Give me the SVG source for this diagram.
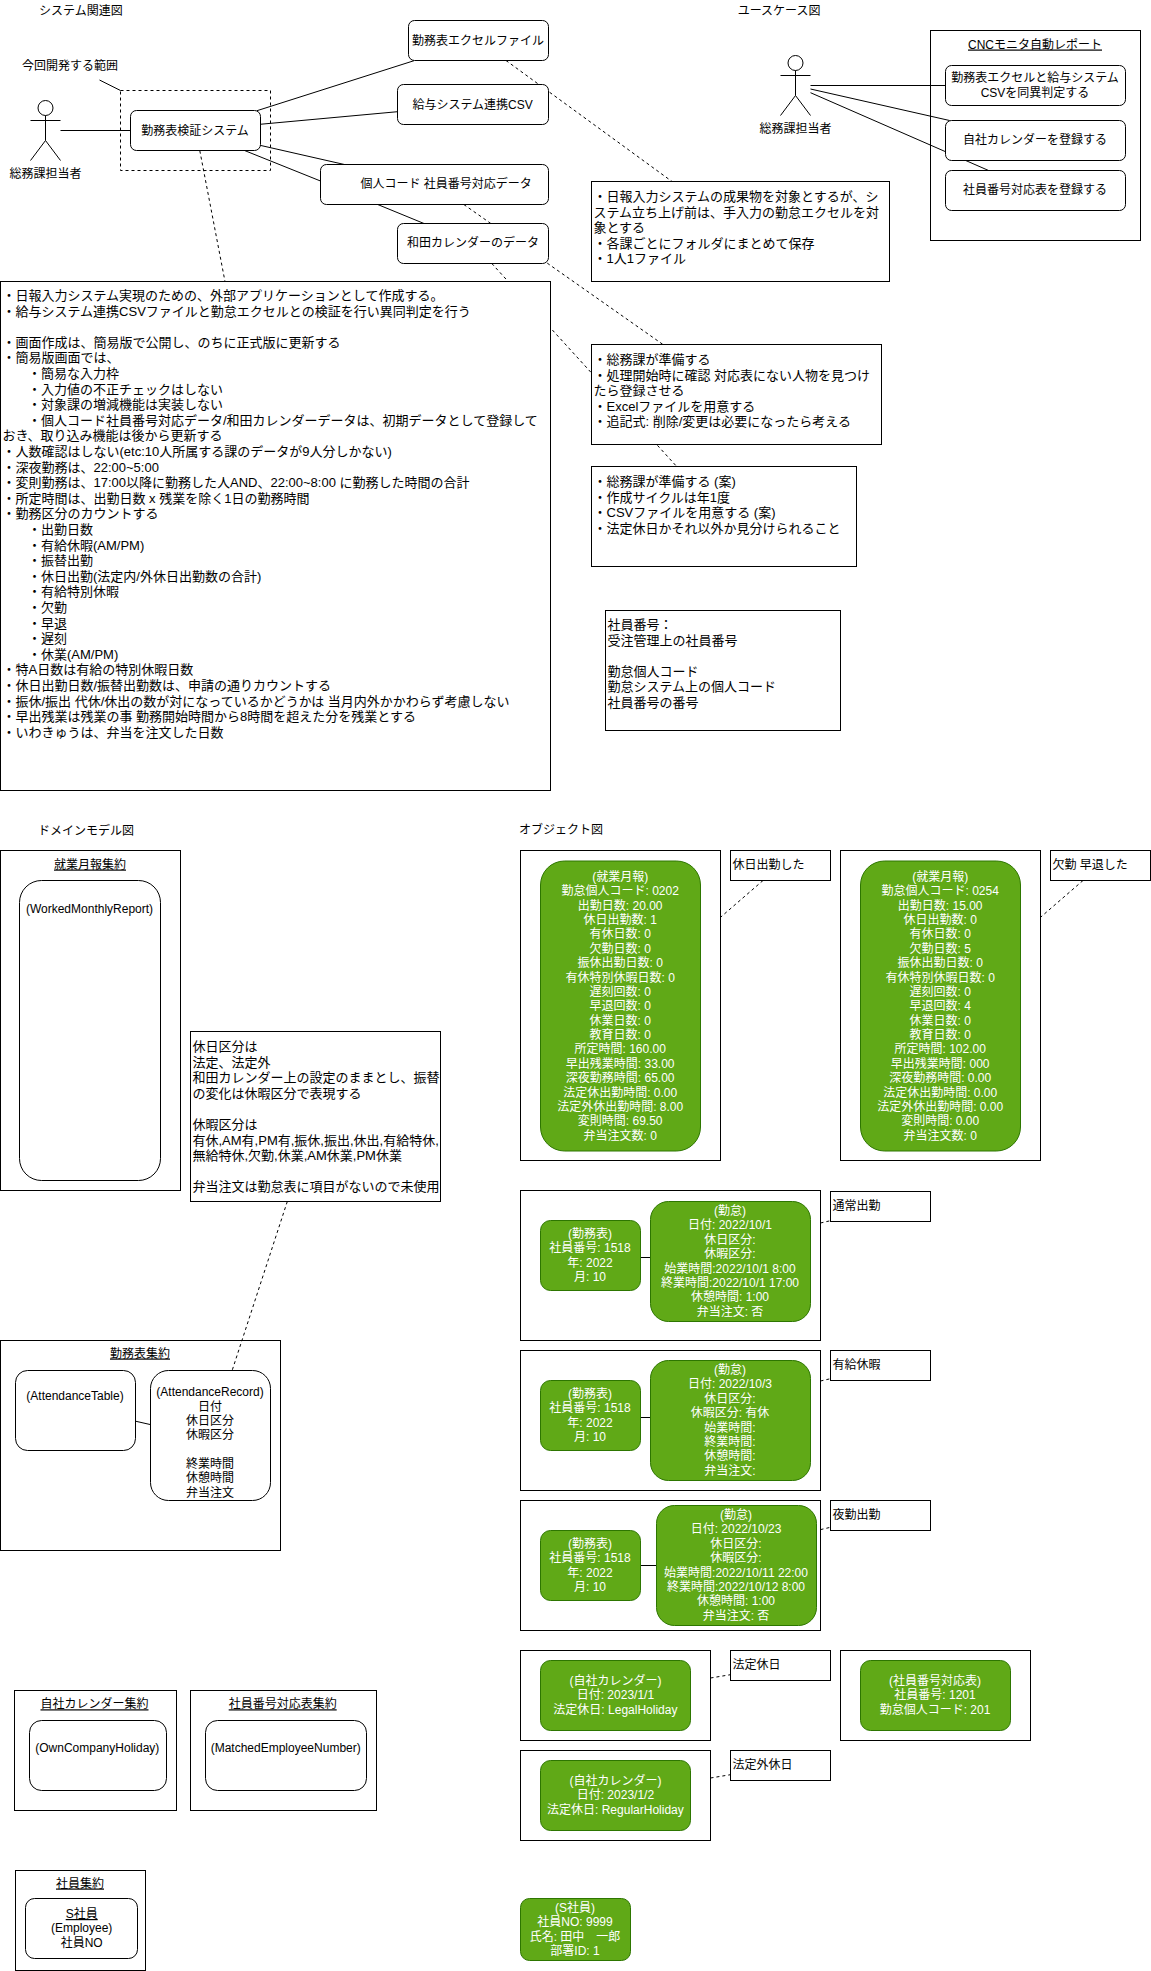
<svg xmlns="http://www.w3.org/2000/svg" width="1151" height="1971" viewBox="0 0 1151 1971">
<style>
text{font-family:"Liberation Sans","Noto Sans CJK JP",sans-serif;font-size:12px;fill:#000}
.m{text-anchor:middle}
.u{text-decoration:underline}
.n13{font-size:13px}
.w{fill:#fff;text-anchor:middle}
.b{fill:#fff;stroke:#000;stroke-width:1}
.f{fill:none;stroke:#000;stroke-width:1}
.g{fill:#60a917;stroke:#2d7600;stroke-width:1}
.l{fill:none;stroke:#000;stroke-width:1}
.d{fill:none;stroke:#000;stroke-width:1;stroke-dasharray:3 3}
</style>
<g id="connectors">
<path class="l" d="M99.5 80L120.5 90.5"/>
<path class="l" d="M60.5 130.5H130.5"/>
<path class="l" d="M257 110.7L414 60.7"/>
<path class="l" d="M260 124.3L397.6 111.7"/>
<path class="l" d="M260 145.3L344.4 164.5"/>
<path class="l" d="M245 150.7L320.5 181"/>
<path class="l" d="M377.7 204.5L424 223.5"/>
<path class="d" d="M506 60.5L672 181.5"/>
<path class="d" d="M199.8 150.7L225 281.5"/>
<path class="d" d="M463.8 204.5L663 344.5"/>
<path class="d" d="M491.8 263.5L676.7 466.5"/>
<path class="l" d="M810.5 85.5H945.5"/>
<path class="l" d="M810.5 89L949.6 120.5"/>
<path class="l" d="M810.5 92.7L988.6 170.5"/>
<path class="d" d="M287.3 1201.5L232.3 1370"/>
<path class="l" d="M135.5 1421.2L150.5 1424.6"/>
<path class="d" d="M763 880.5L720.5 917.3"/>
<path class="d" d="M1083 880.5L1040.5 917.3"/>
<path class="l" d="M640.5 1257.5H650.5"/>
<path class="l" d="M640.5 1417.5H650.5"/>
<path class="l" d="M640.5 1565.5H656.5"/>
<path class="d" d="M820.5 1223L830.5 1220.7"/>
<path class="d" d="M820.5 1381L830.5 1378.7"/>
<path class="d" d="M820.5 1529.6L830.5 1527.3"/>
<path class="d" d="M710.5 1678L730.5 1674.7"/>
<path class="d" d="M710.5 1778L730.5 1774.7"/>
</g>
<g id="titles">
<text x="39" y="15">システム関連図</text>
<text x="737.7" y="15">ユースケース図</text>
<text x="38" y="834.5">ドメインモデル図</text>
<text x="519" y="834">オブジェクト図</text>
<text x="22" y="69.5">今回開発する範囲</text>
</g>
<g id="scope"><rect class="d" x="120.5" y="90.5" width="150" height="80"/></g>
<g id="actor1">
<ellipse class="f" cx="45.5" cy="108" rx="7.5" ry="7.5"/>
<path class="f" d="M45.5 115.5V140.5M30.5 120.5H60.5M30.5 160.5L45.5 140.5L60.5 160.5"/>
<text class="m" x="45.5" y="177.5">総務課担当者</text>
</g>
<g id="sys"><rect class="b" x="130.5" y="110.5" width="130" height="40" rx="6"/><text class="m" x="195" y="135.2">勤務表検証システム</text></g>
<g id="excel"><rect class="b" x="408.5" y="20.5" width="140" height="40" rx="6"/><text class="m" x="478" y="44.5">勤務表エクセルファイル</text></g>
<g id="csv"><rect class="b" x="397.5" y="84.5" width="151" height="40" rx="6"/><text class="m" x="472.6" y="108.5">給与システム連携CSV</text></g>
<g id="code"><rect class="b" x="320.5" y="164.5" width="228" height="40" rx="6"/><text class="m" x="446.2" y="187.8">個人コード 社員番号対応データ</text></g>
<g id="cal"><rect class="b" x="397.5" y="223.5" width="151" height="40" rx="6"/><text class="m" x="473" y="247.2">和田カレンダーのデータ</text></g>
<g id="note-main">
<rect class="b" x="0.5" y="281.5" width="550" height="509"/>
<g class="n13">
<text class="n13" x="2.5" y="300">・日報入力システム実現のための、外部アプリケーションとして作成する。</text>
<text class="n13" x="2.5" y="315.6">・給与システム連携CSVファイルと勤怠エクセルとの検証を行い異同判定を行う</text>
<text class="n13" x="2.5" y="346.8">・画面作成は、簡易版で公開し、のちに正式版に更新する</text>
<text class="n13" x="2.5" y="362.4">・簡易版画面では、</text>
<text class="n13" x="28" y="378">・簡易な入力枠</text>
<text class="n13" x="28" y="393.6">・入力値の不正チェックはしない</text>
<text class="n13" x="28" y="409.2">・対象課の増減機能は実装しない</text>
<text class="n13" x="28" y="424.8">・個人コード社員番号対応データ/和田カレンダーデータは、初期データとして登録して</text>
<text class="n13" x="2.5" y="440.4">おき、取り込み機能は後から更新する</text>
<text class="n13" x="2.5" y="456">・人数確認はしない(etc:10人所属する課のデータが9人分しかない)</text>
<text class="n13" x="2.5" y="471.6">・深夜勤務は、22:00~5:00</text>
<text class="n13" x="2.5" y="487.2">・変則勤務は、17:00以降に勤務した人AND、22:00~8:00 に勤務した時間の合計</text>
<text class="n13" x="2.5" y="502.8">・所定時間は、出勤日数 x 残業を除く1日の勤務時間</text>
<text class="n13" x="2.5" y="518.4">・勤務区分のカウントする</text>
<text class="n13" x="28" y="534">・出勤日数</text>
<text class="n13" x="28" y="549.6">・有給休暇(AM/PM)</text>
<text class="n13" x="28" y="565.2">・振替出勤</text>
<text class="n13" x="28" y="580.8">・休日出勤(法定内/外休日出勤数の合計)</text>
<text class="n13" x="28" y="596.4">・有給特別休暇</text>
<text class="n13" x="28" y="612">・欠勤</text>
<text class="n13" x="28" y="627.6">・早退</text>
<text class="n13" x="28" y="643.2">・遅刻</text>
<text class="n13" x="28" y="658.8">・休業(AM/PM)</text>
<text class="n13" x="2.5" y="674.4">・特A日数は有給の特別休暇日数</text>
<text class="n13" x="2.5" y="690">・休日出勤日数/振替出勤数は、申請の通りカウントする</text>
<text class="n13" x="2.5" y="705.6">・振休/振出 代休/休出の数が対になっているかどうかは 当月内外かかわらず考慮しない</text>
<text class="n13" x="2.5" y="721.2">・早出残業は残業の事 勤務開始時間から8時間を超えた分を残業とする</text>
<text class="n13" x="2.5" y="736.8">・いわきゅうは、弁当を注文した日数</text>
</g>
</g>
<g id="note-excel">
<rect class="b" x="591.5" y="181.5" width="298" height="100"/>
<text class="n13" x="593.5" y="200.8">・日報入力システムの成果物を対象とするが、シ</text>
<text class="n13" x="593.5" y="216.5">ステム立ち上げ前は、手入力の勤怠エクセルを対</text>
<text class="n13" x="593.5" y="232">象とする</text>
<text class="n13" x="593.5" y="247.5">・各課ごとにフォルダにまとめて保存</text>
<text class="n13" x="593.5" y="262.8">・1人1ファイル</text>
</g>
<g id="note-code">
<rect class="b" x="591.5" y="344.5" width="290" height="100"/>
<text class="n13" x="593.5" y="364">・総務課が準備する</text>
<text class="n13" x="593.5" y="379.6">・処理開始時に確認 対応表にない人物を見つけ</text>
<text class="n13" x="593.5" y="395.2">たら登録させる</text>
<text class="n13" x="593.5" y="410.8">・Excelファイルを用意する</text>
<text class="n13" x="593.5" y="426.4">・追記式: 削除/変更は必要になったら考える</text>
</g>
<g id="note-cal">
<rect class="b" x="591.5" y="466.5" width="265" height="100"/>
<text class="n13" x="593.5" y="486">・総務課が準備する (案)</text>
<text class="n13" x="593.5" y="501.6">・作成サイクルは年1度</text>
<text class="n13" x="593.5" y="517.2">・CSVファイルを用意する (案)</text>
<text class="n13" x="593.5" y="532.8">・法定休日かそれ以外か見分けられること</text>
</g>
<g id="note-def">
<rect class="b" x="605.5" y="610.5" width="235" height="120"/>
<text class="n13" x="607.5" y="629">社員番号：</text>
<text class="n13" x="607.5" y="644.6">受注管理上の社員番号</text>
<text class="n13" x="607.5" y="675.8">勤怠個人コード</text>
<text class="n13" x="607.5" y="691.4">勤怠システム上の個人コード</text>
<text class="n13" x="607.5" y="707">社員番号の番号</text>
</g>
<g id="actor2">
<ellipse class="f" cx="795.5" cy="63" rx="7.5" ry="7.5"/>
<path class="f" d="M795.5 70.5V95.5M780.5 75.5H810.5M780.5 115.5L795.5 95.5L810.5 115.5"/>
<text class="m" x="795.5" y="132.5">総務課担当者</text>
</g>
<g id="cnc">
<rect class="f" x="930.5" y="30.5" width="210" height="210"/>
<text class="m u" x="1035" y="48.5">CNCモニタ自動レポート</text>
</g>
<g id="uc1"><rect class="b" x="945.5" y="65.5" width="180" height="40" rx="6"/><text class="m" x="1035" y="82.2">勤務表エクセルと給与システム</text><text class="m" x="1035" y="97.2">CSVを同異判定する</text></g>
<g id="uc2"><rect class="b" x="945.5" y="120.5" width="180" height="40" rx="6"/><text class="m" x="1035" y="144">自社カレンダーを登録する</text></g>
<g id="uc3"><rect class="b" x="945.5" y="170.5" width="180" height="40" rx="6"/><text class="m" x="1035" y="194">社員番号対応表を登録する</text></g>

<g id="agg-report">
<rect class="f" x="0.5" y="850.5" width="180" height="340"/>
<text class="m u" x="90" y="868.5">就業月報集約</text>
<rect class="b" x="19.5" y="880.5" width="141" height="300" rx="22"/>
<text class="m" x="89.5" y="912.5">(WorkedMonthlyReport)</text>
</g>
<g id="note-domain">
<rect class="b" x="190.5" y="1031.5" width="250" height="170"/>
<text class="n13" x="192.5" y="1051">休日区分は</text>
<text class="n13" x="192.5" y="1066.6">法定、法定外</text>
<text class="n13" x="192.5" y="1082.2">和田カレンダー上の設定のままとし、振替</text>
<text class="n13" x="192.5" y="1097.8">の変化は休暇区分で表現する</text>
<text class="n13" x="192.5" y="1129">休暇区分は</text>
<text class="n13" x="192.5" y="1144.6">有休,AM有,PM有,振休,振出,休出,有給特休,</text>
<text class="n13" x="192.5" y="1160.2">無給特休,欠勤,休業,AM休業,PM休業</text>
<text class="n13" x="192.5" y="1191.4">弁当注文は勤怠表に項目がないので未使用</text>
</g>
<g id="agg-attendance">
<rect class="f" x="0.5" y="1340.5" width="280" height="210"/>
<text class="m u" x="140" y="1357.5">勤務表集約</text>
</g>
<g id="attendance-table"><rect class="b" x="15.5" y="1370.5" width="120" height="80" rx="12"/><text class="m" x="75" y="1400">(AttendanceTable)</text></g>
<g id="attendance-record">
<rect class="b" x="150.5" y="1370.5" width="120" height="130" rx="18"/>
<text class="m" x="210" y="1396">(AttendanceRecord)</text>
<text class="m" x="210" y="1410.8">日付</text>
<text class="m" x="210" y="1425">休日区分</text>
<text class="m" x="210" y="1439">休暇区分</text>
<text class="m" x="210" y="1468">終業時間</text>
<text class="m" x="210" y="1482.3">休憩時間</text>
<text class="m" x="210" y="1497">弁当注文</text>
</g>
<g id="agg-holiday">
<rect class="f" x="14.5" y="1690.5" width="162" height="120"/>
<text class="m u" x="94.5" y="1708.3">自社カレンダー集約</text>
<rect class="b" x="29.5" y="1720.5" width="137" height="70" rx="12"/>
<text class="m" x="97.3" y="1752.3">(OwnCompanyHoliday)</text>
</g>
<g id="agg-matched">
<rect class="f" x="190.5" y="1690.5" width="186" height="120"/>
<text class="m u" x="282.7" y="1708.3">社員番号対応表集約</text>
<rect class="b" x="205.5" y="1720.5" width="161" height="70" rx="12"/>
<text class="m" x="285.7" y="1752.3">(MatchedEmployeeNumber)</text>
</g>
<g id="agg-employee">
<rect class="f" x="15.5" y="1870.5" width="130" height="100"/>
<text class="m u" x="80" y="1887.5">社員集約</text>
<rect class="b" x="25.5" y="1898.5" width="112" height="60" rx="9"/>
<text class="m u" x="81.7" y="1918">S社員</text>
<text class="m" x="81.7" y="1932">(Employee)</text>
<text class="m" x="81.7" y="1947">社員NO</text>
</g>

<g id="obj1">
<rect class="f" x="520.5" y="850.5" width="200" height="310"/>
<rect class="g" x="540.5" y="861" width="160" height="290" rx="24"/>
<text class="w" x="620.2" y="881.2">(就業月報)</text>
<text class="w" x="620.2" y="895.2">勤怠個人コード: 0202</text>
<text class="w" x="620.2" y="910.2">出勤日数: 20.00</text>
<text class="w" x="620.2" y="924.2">休日出勤数: 1</text>
<text class="w" x="620.2" y="938.2">有休日数: 0</text>
<text class="w" x="620.2" y="953.2">欠勤日数: 0</text>
<text class="w" x="620.2" y="967.2">振休出勤日数: 0</text>
<text class="w" x="620.2" y="982.2">有休特別休暇日数: 0</text>
<text class="w" x="620.2" y="996.2">遅刻回数: 0</text>
<text class="w" x="620.2" y="1010.2">早退回数: 0</text>
<text class="w" x="620.2" y="1025.2">休業日数: 0</text>
<text class="w" x="620.2" y="1039.2">教育日数: 0</text>
<text class="w" x="620.2" y="1053.2">所定時間: 160.00</text>
<text class="w" x="620.2" y="1068.2">早出残業時間: 33.00</text>
<text class="w" x="620.2" y="1082.2">深夜勤務時間: 65.00</text>
<text class="w" x="620.2" y="1097.2">法定休出勤時間: 0.00</text>
<text class="w" x="620.2" y="1111.2">法定外休出勤時間: 8.00</text>
<text class="w" x="620.2" y="1125.2">変則時間: 69.50</text>
<text class="w" x="620.2" y="1140.2">弁当注文数: 0</text>
</g>
<g id="obj1-note"><rect class="b" x="730.5" y="850.5" width="100" height="30"/><text x="732.5" y="868.8">休日出勤した</text></g>
<g id="obj2">
<rect class="f" x="840.5" y="850.5" width="200" height="310"/>
<rect class="g" x="860.5" y="861" width="160" height="290" rx="24"/>
<text class="w" x="940.2" y="881.2">(就業月報)</text>
<text class="w" x="940.2" y="895.2">勤怠個人コード: 0254</text>
<text class="w" x="940.2" y="910.2">出勤日数: 15.00</text>
<text class="w" x="940.2" y="924.2">休日出勤数: 0</text>
<text class="w" x="940.2" y="938.2">有休日数: 0</text>
<text class="w" x="940.2" y="953.2">欠勤日数: 5</text>
<text class="w" x="940.2" y="967.2">振休出勤日数: 0</text>
<text class="w" x="940.2" y="982.2">有休特別休暇日数: 0</text>
<text class="w" x="940.2" y="996.2">遅刻回数: 0</text>
<text class="w" x="940.2" y="1010.2">早退回数: 4</text>
<text class="w" x="940.2" y="1025.2">休業日数: 0</text>
<text class="w" x="940.2" y="1039.2">教育日数: 0</text>
<text class="w" x="940.2" y="1053.2">所定時間: 102.00</text>
<text class="w" x="940.2" y="1068.2">早出残業時間: 000</text>
<text class="w" x="940.2" y="1082.2">深夜勤務時間: 0.00</text>
<text class="w" x="940.2" y="1097.2">法定休出勤時間: 0.00</text>
<text class="w" x="940.2" y="1111.2">法定外休出勤時間: 0.00</text>
<text class="w" x="940.2" y="1125.2">変則時間: 0.00</text>
<text class="w" x="940.2" y="1140.2">弁当注文数: 0</text>
</g>
<g id="obj2-note"><rect class="b" x="1050.5" y="850.5" width="100" height="30"/><text x="1052.5" y="868.8">欠勤 早退した</text></g>

<g id="frame-a"><rect class="f" x="520.5" y="1190.5" width="300" height="150"/></g>
<g id="sheet-a">
<rect class="g" x="540.5" y="1220.5" width="100" height="70" rx="10"/>
<text class="w" x="590" y="1237.8">(勤務表)</text>
<text class="w" x="590" y="1252.2">社員番号: 1518</text>
<text class="w" x="590" y="1266.8">年: 2022</text>
<text class="w" x="590" y="1281.2">月: 10</text>
</g>
<g id="rec-a">
<rect class="g" x="650.5" y="1201.5" width="160" height="120" rx="18"/>
<text class="w" x="730" y="1215.2">(勤怠)</text>
<text class="w" x="730" y="1229.2">日付: 2022/10/1</text>
<text class="w" x="730" y="1243.8">休日区分:</text>
<text class="w" x="730" y="1257.8">休暇区分:</text>
<text class="w" x="730" y="1272.8">始業時間:2022/10/1 8:00</text>
<text class="w" x="730" y="1286.8">終業時間:2022/10/1 17:00</text>
<text class="w" x="730" y="1301.2">休憩時間: 1:00</text>
<text class="w" x="730" y="1315.8">弁当注文: 否</text>
</g>
<g id="note-a"><rect class="b" x="830.5" y="1191.5" width="100" height="30"/><text x="832.5" y="1210.2">通常出勤</text></g>

<g id="frame-b"><rect class="f" x="520.5" y="1350.5" width="300" height="140"/></g>
<g id="sheet-b">
<rect class="g" x="540.5" y="1380.5" width="100" height="70" rx="10"/>
<text class="w" x="590" y="1397.8">(勤務表)</text>
<text class="w" x="590" y="1412.2">社員番号: 1518</text>
<text class="w" x="590" y="1426.8">年: 2022</text>
<text class="w" x="590" y="1441.2">月: 10</text>
</g>
<g id="rec-b">
<rect class="g" x="650.5" y="1360.5" width="160" height="120" rx="18"/>
<text class="w" x="730" y="1374.2">(勤怠)</text>
<text class="w" x="730" y="1388.2">日付: 2022/10/3</text>
<text class="w" x="730" y="1402.8">休日区分:</text>
<text class="w" x="730" y="1417.2">休暇区分: 有休</text>
<text class="w" x="730" y="1431.8">始業時間:</text>
<text class="w" x="730" y="1446.2">終業時間:</text>
<text class="w" x="730" y="1460.2">休憩時間:</text>
<text class="w" x="730" y="1475.2">弁当注文:</text>
</g>
<g id="note-b"><rect class="b" x="830.5" y="1350.5" width="100" height="30"/><text x="832.5" y="1368.8">有給休暇</text></g>

<g id="frame-c"><rect class="f" x="520.5" y="1500.5" width="300" height="130"/></g>
<g id="sheet-c">
<rect class="g" x="540.5" y="1530.5" width="100" height="70" rx="10"/>
<text class="w" x="590" y="1547.8">(勤務表)</text>
<text class="w" x="590" y="1562.2">社員番号: 1518</text>
<text class="w" x="590" y="1576.8">年: 2022</text>
<text class="w" x="590" y="1591.2">月: 10</text>
</g>
<g id="rec-c">
<rect class="g" x="656.5" y="1505.5" width="160" height="120" rx="18"/>
<text class="w" x="736" y="1519.2">(勤怠)</text>
<text class="w" x="736" y="1533.2">日付: 2022/10/23</text>
<text class="w" x="736" y="1547.8">休日区分:</text>
<text class="w" x="736" y="1561.8">休暇区分:</text>
<text class="w" x="736" y="1576.8">始業時間:2022/10/11 22:00</text>
<text class="w" x="736" y="1591.2">終業時間:2022/10/12 8:00</text>
<text class="w" x="736" y="1605.2">休憩時間: 1:00</text>
<text class="w" x="736" y="1619.8">弁当注文: 否</text>
</g>
<g id="note-c"><rect class="b" x="830.5" y="1500.5" width="100" height="30"/><text x="832.5" y="1519.2">夜勤出勤</text></g>

<g id="hol1">
<rect class="f" x="520.5" y="1650.5" width="190" height="90"/>
<rect class="g" x="540.5" y="1660.5" width="150" height="70" rx="10"/>
<text class="w" x="615.4" y="1685.2">(自社カレンダー)</text>
<text class="w" x="615.4" y="1699.2">日付: 2023/1/1</text>
<text class="w" x="615.4" y="1713.8">法定休日: LegalHoliday</text>
</g>
<g id="hol1-note"><rect class="b" x="730.5" y="1650.5" width="100" height="30"/><text x="732.5" y="1668.8">法定休日</text></g>
<g id="match">
<rect class="f" x="840.5" y="1650.5" width="190" height="90"/>
<rect class="g" x="860.5" y="1660.5" width="150" height="70" rx="10"/>
<text class="w" x="935" y="1685.2">(社員番号対応表)</text>
<text class="w" x="935" y="1699.2">社員番号: 1201</text>
<text class="w" x="935" y="1713.8">勤怠個人コード: 201</text>
</g>
<g id="hol2">
<rect class="f" x="520.5" y="1750.5" width="190" height="90"/>
<rect class="g" x="540.5" y="1760.5" width="150" height="70" rx="10"/>
<text class="w" x="615.4" y="1785.2">(自社カレンダー)</text>
<text class="w" x="615.4" y="1799.2">日付: 2023/1/2</text>
<text class="w" x="615.4" y="1813.8">法定休日: RegularHoliday</text>
</g>
<g id="hol2-note"><rect class="b" x="730.5" y="1750.5" width="100" height="30"/><text x="732.5" y="1768.8">法定外休日</text></g>
<g id="employee">
<rect class="g" x="520.5" y="1898.5" width="110" height="62" rx="9"/>
<text class="w" x="575" y="1912.2">(S社員)</text>
<text class="w" x="575" y="1926.2">社員NO: 9999</text>
<text class="w" x="575" y="1941.2">氏名: 田中　一郎</text>
<text class="w" x="575" y="1955.2">部署ID: 1</text>
</g>
</svg>
